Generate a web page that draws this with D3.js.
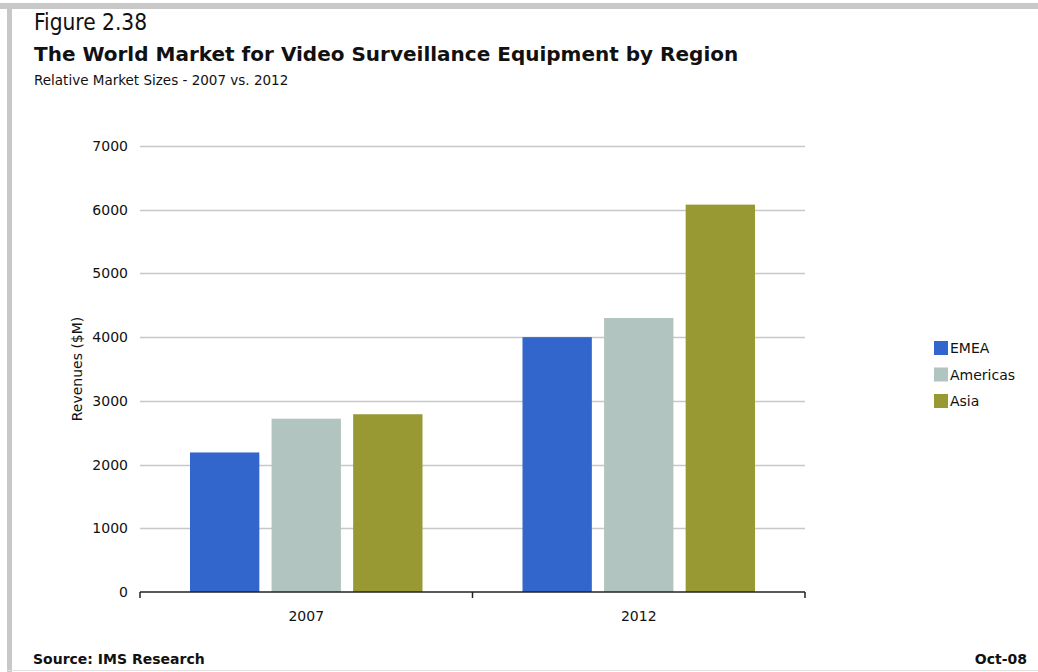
<!DOCTYPE html>
<html lang="en">
<head>
	<meta charset="UTF-8">
	<title>Video Surveillance Market</title>
	<script src="https://cdn.jsdelivr.net/npm/d3@7/dist/d3.min.js"></script>
	<style>
		body { margin: 0; background: #fff; }
		text { font-family: "DejaVu Sans", sans-serif; fill: #111; }
	</style>
</head>
<body>
	<div id="container"></div>
	<script>
		var width = 1038;
		var height = 672;

		// data
		var years = ["2007", "2012"];
		var regions = ["EMEA", "Americas", "Asia"];
		var emea = [2190, 4000];
		var americas = [2720, 4300];
		var asia = [2790, 6080];
		var yTicks = [0, 1000, 2000, 3000, 4000, 5000, 6000, 7000];
		var colors = ["#3366cc", "#b2c4bf", "#999933"];

		var series = [emea, americas, asia];

		var svg = d3.select("#container").append("svg")
				.attr("width", width)
				.attr("height", height);

		// page frame
		svg.append("rect").attr("x", 0).attr("y", 3).attr("width", width).attr("height", 6).attr("fill", "#c8c8c8");
		svg.append("rect").attr("x", 7).attr("y", 3).attr("width", 5).attr("height", height).attr("fill", "#c8c8c8");
		svg.append("line").attr("x1", 7).attr("x2", width).attr("y1", 670.5).attr("y2", 670.5)
				.style("stroke", "#e0e0e0");

		// headings
		svg.append("text").attr("x", 34).attr("y", 30)
				.style("font-family", "'DejaVu Sans Condensed', 'DejaVu Sans'")
				.style("font-size", "22.5px").text("Figure 2.38");
		svg.append("text").attr("x", 34).attr("y", 61).style("font-size", "20px").style("font-weight", "bold")
				.text("The World Market for Video Surveillance Equipment by Region");
		svg.append("text").attr("x", 34).attr("y", 85).style("font-size", "13.5px")
				.text("Relative Market Sizes - 2007 vs. 2012");

		var plot = {left: 140, right: 805, top: 146, bottom: 592};

		var y = d3.scaleLinear()
				.domain([0, 7000])
				.range([plot.bottom, plot.top]);

		var x0 = d3.scaleBand()
				.domain(years)
				.range([plot.left, plot.right]);

		var x1 = d3.scaleBand()
				.domain(regions)
				.range([50, x0.bandwidth() - 50])
				.paddingInner(0.15);

		// gridlines
		svg.append("g").selectAll("line").data(yTicks.slice(1))
			.enter().append("line")
				.attr("x1", plot.left)
				.attr("x2", plot.right)
				.attr("y1", d => Math.round(y(d)) + 0.5)
				.attr("y2", d => Math.round(y(d)) + 0.5)
				.style("stroke", "#c8c8c8")
				.style("stroke-width", 1.5);

		// y tick labels
		svg.append("g").selectAll("text").data(yTicks)
			.enter().append("text")
				.attr("x", 128)
				.attr("y", d => y(d) + 5)
				.attr("text-anchor", "end")
				.style("font-size", "14px")
				.text(d => d);

		// bars
		var groups = svg.append("g").selectAll("g").data(years)
			.enter().append("g")
				.attr("transform", d => "translate(" + x0(d) + ",0)");

		groups.selectAll("rect")
			.data((d, i) => regions.map((r, j) => ({region: r, value: series[j][i], color: colors[j]})))
			.enter().append("rect")
				.attr("x", d => x1(d.region))
				.attr("y", d => y(d.value))
				.attr("width", x1.bandwidth())
				.attr("height", d => plot.bottom - y(d.value))
				.attr("fill", d => d.color);

		// x axis
		var xAxis = svg.append("g")
				.attr("transform", "translate(0," + plot.bottom + ")");
		xAxis.append("line")
				.attr("x1", plot.left).attr("x2", plot.right)
				.attr("y1", 0).attr("y2", 0)
				.style("stroke", "#222").style("stroke-width", 1.5);
		var xEdges = [plot.left].concat(years.map(d => x0(d) + x0.bandwidth()));
		xAxis.selectAll(".tick").data(xEdges)
			.enter().append("line")
				.attr("x1", d => d).attr("x2", d => d)
				.attr("y1", 0).attr("y2", 6)
				.style("stroke", "#222").style("stroke-width", 1.5);
		xAxis.selectAll(".lab").data(years)
			.enter().append("text")
				.attr("x", d => x0(d) + x0.bandwidth() / 2)
				.attr("y", 29)
				.attr("text-anchor", "middle")
				.style("font-size", "14px")
				.text(d => d);

		// y axis title
		svg.append("text")
				.attr("transform", "translate(82,369) rotate(-90)")
				.attr("text-anchor", "middle")
				.style("font-size", "14px")
				.text("Revenues ($M)");

		// legend
		var legend = svg.append("g").selectAll("g").data(regions)
			.enter().append("g")
				.attr("transform", (d, i) => "translate(934," + (341 + i * 26.5) + ")");
		legend.append("rect")
				.attr("width", 14).attr("height", 14)
				.attr("fill", (d, i) => colors[i]);
		legend.append("text")
				.attr("x", 16).attr("y", 12)
				.style("font-size", "14px")
				.text(d => d);

		// footer
		svg.append("text").attr("x", 33).attr("y", 664).style("font-size", "14px").style("font-weight", "bold")
				.text("Source: IMS Research");
		svg.append("text").attr("x", 1027).attr("y", 664).attr("text-anchor", "end")
				.style("font-size", "14px").style("font-weight", "bold")
				.text("Oct-08");
	</script>
</body>
</html>
